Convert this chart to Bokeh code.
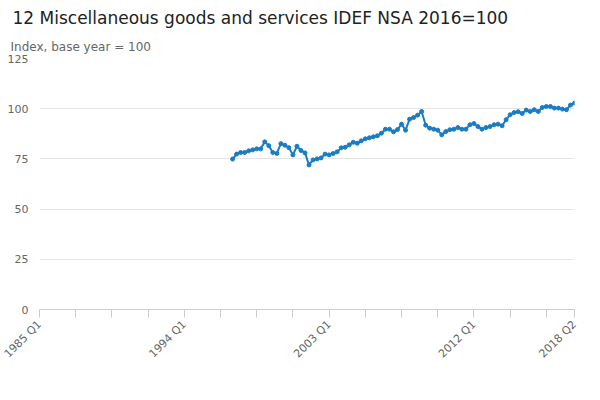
from bokeh.plotting import figure
from bokeh.models import FixedTicker, Legend, LegendItem, Title, Range1d
from bokeh.embed import file_html
from bokeh.resources import INLINE

start_q = 48  # quarter index from 1985 Q1 (1997 Q1)
values = [74.9, 77.4, 78.2, 78.2, 79.0, 79.5, 80.0, 80.0, 83.5, 81.6,
          78.2, 77.7, 82.6, 81.8, 80.6, 77.0, 81.3, 79.2, 78.0, 72.0,
          74.5, 75.0, 75.5, 77.4, 77.0, 77.7, 78.5, 80.5, 80.8, 82.0,
          83.3, 82.8, 84.0, 85.0, 85.5, 86.0, 86.5, 87.8, 89.8, 89.8,
          88.5, 89.6, 92.3, 89.3, 94.8, 95.6, 96.8, 98.6, 91.8, 90.3,
          89.8, 89.3, 87.0, 88.6, 89.5, 89.8, 90.6, 89.8, 89.8, 92.0,
          92.6, 91.1, 89.8, 90.6, 91.1, 92.0, 92.3, 91.5, 94.5, 97.0,
          98.1, 98.5, 97.6, 99.3, 98.6, 99.5, 98.6, 100.6, 101.1, 101.1,
          100.3, 100.3, 99.8, 99.5, 101.8, 102.8]
xs = [start_q + i for i in range(len(values))]
tick_labels = {0: "1985 Q1", 36: "1994 Q1", 72: "2003 Q1", 108: "2012 Q1", 133: "2018 Q2"}
tick_pos = list(range(0, 133, 9)) + [133]
series_name = "12 Miscellaneous goods and services IDEF NSA 2016=100"
color = "#1a7dc3"
font = "DejaVu Sans"

p = figure(frame_width=535, frame_height=251, output_backend="svg", toolbar_location=None,
           x_range=Range1d(0, 133), y_range=Range1d(0, 125),
           min_border_left=39, min_border_right=10, min_border_top=0, min_border_bottom=0)
p.title.text = "12 Miscellaneous goods and services IDEF NSA 2016=100"
p.title.text_font = font
p.title.text_font_size = "17px"
p.title.text_font_style = "normal"
p.title.text_color = "#222222"
p.title.offset = -27
sub = Title(text="Index, base year = 100", text_font=font, text_font_size="12px",
            text_font_style="normal", text_color="#666666", offset=-29)
p.add_layout(sub, "above")

p.outline_line_color = None
p.xgrid.grid_line_color = None
p.ygrid.grid_line_color = "#e5e5e5"
p.yaxis.ticker = FixedTicker(ticks=[0, 25, 50, 75, 100, 125])
p.yaxis.axis_line_color = None
p.yaxis.major_tick_line_color = None
p.yaxis.minor_tick_line_color = None
p.yaxis.major_label_text_color = "#666666"
p.yaxis.major_label_text_font = font
p.yaxis.major_label_text_font_size = "11px"

p.xaxis.ticker = FixedTicker(ticks=tick_pos)
p.xaxis.major_label_overrides = {t: tick_labels.get(t, "") for t in tick_pos}
p.xaxis.major_label_orientation = 0.785
p.xaxis.axis_line_color = "#cccccc"
p.xaxis.major_tick_line_color = "#cccccc"
p.xaxis.major_tick_in = 0
p.xaxis.major_tick_out = 8
p.xaxis.minor_tick_line_color = None
p.xaxis.major_label_text_color = "#666666"
p.xaxis.major_label_text_font = font
p.xaxis.major_label_text_font_size = "11px"

r1 = p.line(xs, values, line_color=color, line_width=2)
r2 = p.scatter(xs, values, size=4, color=color)

legend = Legend(items=[LegendItem(label=series_name, renderers=[r1, r2])],
                location="center", orientation="horizontal",
                label_text_font=font, label_text_font_size="12px",
                label_text_font_style="bold", label_text_color="#333333",
                border_line_color=None, glyph_width=20, margin=2, padding=2)
p.add_layout(legend, "below")
src = Title(text="Source:", align="right", text_font=font, text_font_size="12px",
            text_font_style="normal", text_color="#666666", offset=0)
p.add_layout(src, "below")

open("out.html", "w").write(file_html(p, INLINE))
